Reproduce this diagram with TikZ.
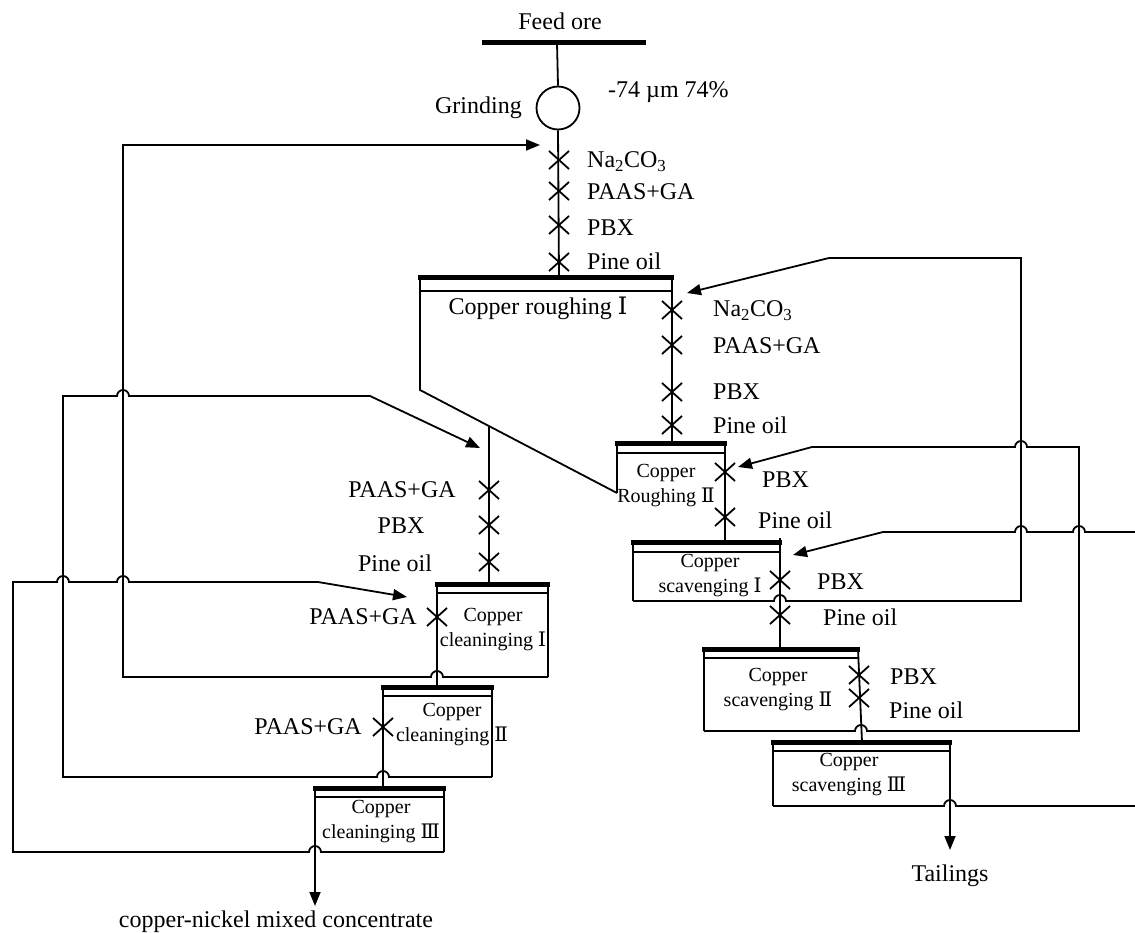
\documentclass[tikz,border=0pt]{standalone}
\usepackage{fontspec}
\setmainfont{Liberation Serif}
\newfontfamily\romfont{DejaVu Serif}
\usetikzlibrary{arrows.meta}
\newcommand{\numI}{{\romfont Ⅰ}}
\newcommand{\numII}{{\romfont Ⅱ}}
\newcommand{\numIII}{{\romfont Ⅲ}}
\tikzset{
  flow/.style={line width=1.8pt},
  bar/.style={line width=5pt},
  rim/.style={line width=1.4pt},
  tip/.style={-{Triangle[length=14pt,width=11pt]}},
  lbl/.style={inner sep=0pt,font=\fontsize{24}{28}\selectfont},
  cell/.style={inner sep=0pt,font=\fontsize{20}{25}\selectfont,align=center},
  xm/.pic={\draw[line width=1.8pt] (-10,-9) -- (10,9) (-10,9) -- (10,-9);}
}

\begin{document}
\begin{tikzpicture}[x=1pt,y=-1pt]
  \useasboundingbox (0,0) rectangle (1135,933);

  % feed and grinding
  \node[lbl] (feed) at (560,21) {Feed ore};
  \draw[bar] (482,43) -- (646,43);
  \node[draw,circle,flow,minimum size=43pt,inner sep=0pt] (mill) at (558,108) {};
  \node[lbl,anchor=east] (grind) at (522,108) {Grinding};
  \node[lbl,anchor=west] (size) at (608,92) {-74 µm 74\%};
  \draw[flow] (557,43) -- (mill.north);
  \draw[flow] (mill.south) -- (559,278);
  \foreach \y in {160,191,225,262} \pic at (559,\y) {xm};
  \node[lbl,anchor=west] (r1a) at (587,162) {Na\textsubscript{2}CO\textsubscript{3}};
  \node[lbl,anchor=west] (r1b) at (587,192) {PAAS+GA};
  \node[lbl,anchor=west] (r1c) at (587,228) {PBX};
  \node[lbl,anchor=west] (r1d) at (587,261) {Pine oil};

  % copper roughing I
  \draw[bar] (418,278) -- (674,278);
  \draw[rim] (420,291) -- (672,291);
  \draw[flow] (420,278) -- (420,390) -- (617,493);
  \draw[flow] (672,278) -- (672,443);
  \node[lbl] (rough1) at (538,308) {Copper roughing \numI};
  \foreach \y in {310,345,392,425} \pic at (672,\y) {xm};
  \node[lbl,anchor=west] (r2a) at (713,311) {Na\textsubscript{2}CO\textsubscript{3}};
  \node[lbl,anchor=west] (r2b) at (713,346) {PAAS+GA};
  \node[lbl,anchor=west] (r2c) at (713,392) {PBX};
  \node[lbl,anchor=west] (r2d) at (713,425) {Pine oil};

  % copper roughing II
  \draw[bar] (615,443) -- (727,443);
  \draw[rim] (617,453) -- (725,453);
  \draw[flow] (617,443) -- (617,493);
  \draw[flow] (725,443) -- (725,542);
  \node[cell] (rough2) at (666,486) {Copper\\Roughing \numII};
  \foreach \y in {472,517} \pic at (725,\y) {xm};
  \node[lbl,anchor=west] (r3a) at (762,480) {PBX};
  \node[lbl,anchor=west] (r3b) at (758,520) {Pine oil};

  % copper scavenging I
  \draw[bar] (631,542) -- (782,542);
  \draw[rim] (633,552) -- (780,552);
  \draw[flow] (633,542) -- (633,601);
  \draw[flow] (780,538) -- (780,649);
  \node[cell] (scav1) at (710,576) {Copper\\scavenging \numI};
  \foreach \y in {580,615} \pic at (780,\y) {xm};
  \node[lbl,anchor=west] (r4a) at (817,582) {PBX};
  \node[lbl,anchor=west] (r4b) at (823,617) {Pine oil};
  % return to roughing I
  \draw[flow,tip] (633,601) -- (774,601) arc[start angle=180,end angle=360,radius=6]
    -- (1021,601) -- (1021,258) -- (829,258) -- (687,293);

  % copper scavenging II
  \draw[bar] (702,649) -- (860,649);
  \draw[rim] (704,658) -- (858,658);
  \draw[flow] (704,649) -- (704,731);
  \draw[flow] (858,649) -- (862,742);
  \node[cell] (scav2) at (778,690) {Copper\\scavenging \numII};
  \foreach \y in {675,698} \pic at (859,\y) {xm};
  \node[lbl,anchor=west] (r5a) at (890,677) {PBX};
  \node[lbl,anchor=west] (r5b) at (889,710) {Pine oil};
  % return to roughing II
  \draw[flow,tip] (704,731) -- (855,731) arc[start angle=180,end angle=360,radius=6]
    -- (1079,731) -- (1079,447) -- (1027,447) arc[start angle=0,end angle=-180,radius=6]
    -- (812,447) -- (738,467);

  % copper scavenging III
  \draw[bar] (771,742) -- (952,742);
  \draw[rim] (773,751) -- (950,751);
  \draw[flow] (773,742) -- (773,806);
  \node[cell] (scav3) at (849,775) {Copper\\scavenging \numIII};
  \draw[flow] (773,806) -- (944,806) arc[start angle=180,end angle=360,radius=6] -- (1135,806);
  \draw[flow,tip] (950,742) -- (950,850);
  \node[lbl] (tail) at (950,876) {Tailings};
  % return to scavenging I
  \draw[flow,tip] (1135,532) -- (1085,532) arc[start angle=0,end angle=-180,radius=6]
    -- (1027,532) arc[start angle=0,end angle=-180,radius=6] -- (883,532) -- (793,555);

  % cleaning feed
  \draw[flow] (489,427) -- (489,584);
  \foreach \y in {490,525,562} \pic at (489,\y) {xm};
  \node[lbl] (c1a) at (402,490) {PAAS+GA};
  \node[lbl] (c1b) at (401,526) {PBX};
  \node[lbl] (c1c) at (395,563) {Pine oil};

  % copper cleaning I
  \draw[bar] (435,584) -- (550,584);
  \draw[rim] (437,593) -- (548,593);
  \draw[flow] (437,584) -- (437,687);
  \draw[flow] (548,584) -- (548,677);
  \node[cell] (clean1) at (493,630) {Copper\\cleaninging \numI};
  \pic at (437,617) {xm};
  \node[lbl,anchor=east] (c2) at (417,617) {PAAS+GA};
  % return to roughing I feed
  \draw[flow,tip] (548,677) -- (443,677) arc[start angle=0,end angle=-180,radius=6]
    -- (123,677) -- (123,145) -- (540,145);

  % copper cleaning II
  \draw[bar] (381,687) -- (494,687);
  \draw[rim] (383,696) -- (492,696);
  \draw[flow] (383,687) -- (383,788);
  \draw[flow] (492,687) -- (492,777);
  \node[cell] (clean2) at (452,725) {Copper\\cleaninging \numII};
  \pic at (383,727) {xm};
  \node[lbl,anchor=east] (c3) at (362,727) {PAAS+GA};
  % return to cleaning feed
  \draw[flow,tip] (492,777) -- (389,777) arc[start angle=0,end angle=-180,radius=6]
    -- (63,777) -- (63,396) -- (117,396) arc[start angle=180,end angle=360,radius=6]
    -- (370,396) -- (480,448);

  % copper cleaning III
  \draw[bar] (313,788) -- (446,788);
  \draw[rim] (315,797) -- (444,797);
  \draw[flow] (444,788) -- (444,852);
  \node[cell] (clean3) at (381,822) {Copper\\cleaninging \numIII};
  \draw[flow,tip] (315,788) -- (315,906);
  \node[lbl] (conc) at (276,922) {copper-nickel mixed concentrate};
  % return to cleaning I
  \draw[flow,tip] (444,852) -- (321,852) arc[start angle=0,end angle=-180,radius=6]
    -- (13,852) -- (13,582) -- (57,582) arc[start angle=180,end angle=360,radius=6]
    -- (117,582) arc[start angle=180,end angle=360,radius=6] -- (318,582) -- (407,597);
\end{tikzpicture}
\end{document}
